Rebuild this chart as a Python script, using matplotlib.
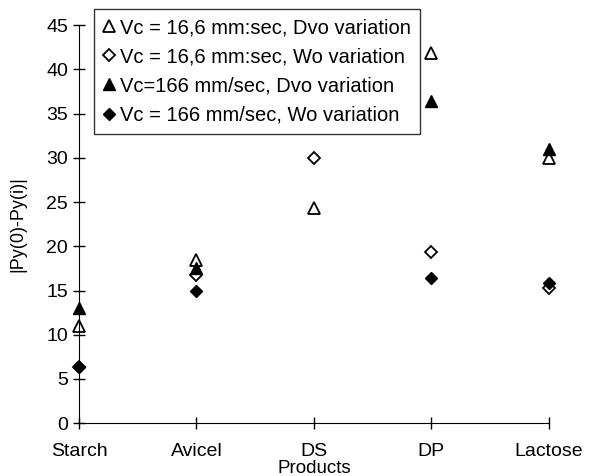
import numpy as np
import matplotlib
matplotlib.use("Agg")
import matplotlib.pyplot as plt

plt.rcParams['font.family'] = ['Liberation Sans', 'DejaVu Sans']

products = ["Starch", "Avicel", "DS", "DP", "Lactose"]
dvo_slow = [11.0, 18.4, 24.3, 41.9, 30.0]
wo_slow = [6.4, 16.8, 30.0, 19.4, 15.3]
dvo_fast = [13.0, 17.5, np.nan, 36.4, 31.0]
wo_fast = [6.4, 14.9, np.nan, 16.4, 15.8]

fig = plt.figure(figsize=(6.03, 4.76), dpi=100)
ax = fig.add_axes([0.131, 0.111, 0.779, 0.836])
x = np.arange(len(products))

ax.plot(x, dvo_slow, ls='none', marker='^', ms=9, mfc='white', mec='black', mew=1.3,
        label="Vc = 16,6 mm:sec, Dvo variation", clip_on=False)
ax.plot(x, wo_slow, ls='none', marker='D', ms=6.5, mfc='white', mec='black', mew=1.3,
        label="Vc = 16,6 mm:sec, Wo variation", clip_on=False)
ax.plot(x, dvo_fast, ls='none', marker='^', ms=9, mfc='black', mec='black',
        label="Vc=166 mm/sec, Dvo variation", clip_on=False)
ax.plot(x, wo_fast, ls='none', marker='D', ms=6.5, mfc='black', mec='black',
        label="Vc = 166 mm/sec, Wo variation", clip_on=False)

ax.set_xlim(0, 4)
ax.set_ylim(0, 45)
ax.set_yticks(range(0, 46, 5))
ax.set_xticks(x)
ax.set_xticklabels(products)
ax.tick_params(direction='inout', length=9, labelsize=14, width=1)
ax.tick_params(axis='x', pad=10)
for s in ['top', 'right']:
    ax.spines[s].set_visible(False)
ax.set_ylabel("|Py(0)-Py(i)|", fontsize=13, labelpad=14)
ax.set_xlabel("Products", fontsize=13.5, labelpad=0)

leg = ax.legend(loc='upper left', bbox_to_anchor=(0.032, 1.04), fontsize=14.5,
                frameon=True, fancybox=False, edgecolor='black', handlelength=0.6,
                handletextpad=0.25, borderpad=0.45, labelspacing=0.5, borderaxespad=0)
leg.get_frame().set_linewidth(1)

fig.savefig("out.png", dpi=100)
